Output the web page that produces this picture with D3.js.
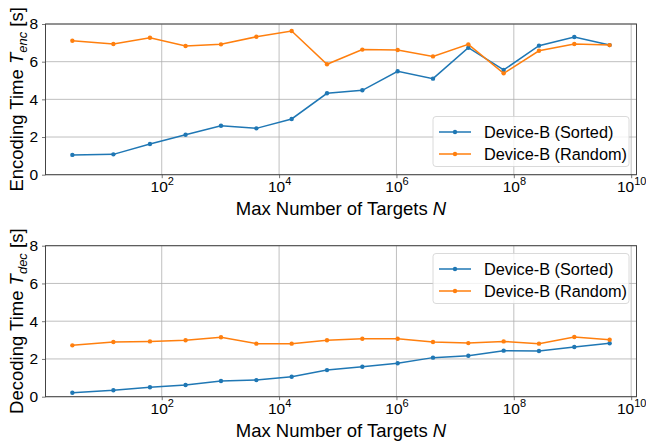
<!DOCTYPE html>
<html>
<head>
<meta charset="utf-8">
<script src="https://cdn.jsdelivr.net/npm/d3@7"></script>
<style>
  body { margin: 0; background: #fff; }
  svg { font-family: "Liberation Sans", Arial, sans-serif; }
</style>
</head>
<body>
<svg id="chart" width="646" height="443"></svg>
<script>
// max number of targets: 4^k - 1, k = 1..16
const targets = [3, 15, 63, 255, 1023, 4095, 16383, 65535, 262143, 1048575,
  4194303, 16777215, 67108863, 268435455, 1073741823, 4294967295];

const encSorted = [1.05, 1.08, 1.63, 2.12, 2.60, 2.46, 2.96, 4.32, 4.48, 5.49,
  5.10, 6.74, 5.56, 6.85, 7.31, 6.88];
const encRandom = [7.11, 6.94, 7.27, 6.83, 6.92, 7.32, 7.63, 5.86, 6.64, 6.62,
  6.28, 6.92, 5.38, 6.58, 6.94, 6.88];

const decSorted = [0.21, 0.34, 0.50, 0.62, 0.83, 0.88, 1.06, 1.41, 1.59, 1.77,
  2.07, 2.17, 2.44, 2.42, 2.63, 2.83];
const decRandom = [2.72, 2.90, 2.93, 2.99, 3.15, 2.81, 2.81, 2.99, 3.07, 3.07,
  2.90, 2.84, 2.93, 2.81, 3.16, 3.02];

const xTicks = [1e2, 1e4, 1e6, 1e8, 1e10];
const yTicks = [0, 2, 4, 6, 8];
const seriesNames = ['Device-B (Sorted)', 'Device-B (Random)'];
const colors = ['#1f77b4', '#ff7f0e'];

const svg = d3.select('#chart');
const left = 45.5, right = 636.5;

// log axis with 5% margins like matplotlib
const lo = Math.log10(d3.min(targets)), hi = Math.log10(d3.max(targets));
const pad = (hi - lo) * 0.05;
const x = d3.scaleLog()
  .domain([Math.pow(10, lo - pad), Math.pow(10, hi + pad)])
  .range([left, right]);

function drawPanel(top, bottom, sorted, random, labelSub, labelMain, legendY) {
  const y = d3.scaleLinear().domain([0, 8]).range([bottom, top]);
  const g = svg.append('g');

  // grid
  g.append('g').selectAll('line').data(xTicks).enter().append('line')
    .attr('x1', d => x(d)).attr('x2', d => x(d))
    .attr('y1', top).attr('y2', bottom)
    .attr('stroke', '#b0b0b0').attr('stroke-width', 0.8);
  g.append('g').selectAll('line').data(yTicks).enter().append('line')
    .attr('x1', left).attr('x2', right)
    .attr('y1', d => y(d)).attr('y2', d => y(d))
    .attr('stroke', '#b0b0b0').attr('stroke-width', 0.8);

  // axes
  const xAxis = g.append('g')
    .attr('transform', `translate(0,${bottom})`)
    .call(d3.axisBottom(x).tickValues(xTicks).tickSize(3.5).tickSizeOuter(0).tickPadding(3)
      .tickFormat(() => ''));
  xAxis.selectAll('.tick text').each(function (d) {
    const t = d3.select(this);
    const e = Math.round(Math.log10(d));
    t.text(null).attr('font-size', 15.5).attr('fill', '#000');
    t.append('tspan').text('10');
    t.append('tspan').attr('dy', -7).attr('font-size', 11).text(String(e));
  });
  const yAxis = g.append('g')
    .attr('transform', `translate(${left},0)`)
    .call(d3.axisLeft(y).tickValues(yTicks).tickSize(3.5).tickSizeOuter(0).tickPadding(4));
  yAxis.selectAll('.tick text').attr('font-size', 15.5).attr('fill', '#000');
  [xAxis, yAxis].forEach(a => {
    a.select('.domain').remove();
    a.selectAll('.tick line').attr('stroke', '#555').attr('stroke-width', 0.8);
  });

  // spines
  g.append('rect')
    .attr('x', left).attr('y', top)
    .attr('width', right - left).attr('height', bottom - top)
    .attr('fill', 'none').attr('stroke', '#444').attr('stroke-width', 1);

  // series
  [sorted, random].forEach((vals, i) => {
    const pts = targets.map((t, j) => [t, vals[j]]);
    g.append('path').datum(pts)
      .attr('fill', 'none').attr('stroke', colors[i]).attr('stroke-width', 1.5)
      .attr('d', d3.line().x(d => x(d[0])).y(d => y(d[1])));
    g.append('g').selectAll('circle').data(pts).enter().append('circle')
      .attr('cx', d => x(d[0])).attr('cy', d => y(d[1])).attr('r', 2.2)
      .attr('fill', colors[i]);
  });

  // legend
  const lg = g.append('g').attr('transform', `translate(433,${legendY})`);
  lg.append('rect').attr('width', 196).attr('height', 50).attr('rx', 3)
    .attr('fill', 'rgba(255,255,255,0.8)').attr('stroke', '#d0d0d0').attr('stroke-width', 0.8);
  seriesNames.forEach((name, i) => {
    const cy = 15.5 + i * 22;
    lg.append('line').attr('x1', 6).attr('x2', 38).attr('y1', cy).attr('y2', cy)
      .attr('stroke', colors[i]).attr('stroke-width', 1.5);
    lg.append('circle').attr('cx', 22).attr('cy', cy).attr('r', 2.2).attr('fill', colors[i]);
    lg.append('text').attr('x', 51).attr('y', cy + 6).attr('font-size', 16.3)
      .attr('fill', '#000').text(name);
  });

  // x label
  const xl = svg.append('text')
    .attr('x', (left + right) / 2).attr('y', bottom + 40)
    .attr('text-anchor', 'middle').attr('font-size', 18.5).attr('fill', '#000');
  xl.append('tspan').text('Max Number of Targets ');
  xl.append('tspan').attr('font-style', 'italic').text('N');

  // y label
  const yl = svg.append('text')
    .attr('transform', `translate(23,${(top + bottom) / 2}) rotate(-90)`)
    .attr('text-anchor', 'middle').attr('font-size', 18.5).attr('fill', '#000');
  yl.append('tspan').text(labelMain + ' ');
  yl.append('tspan').attr('font-style', 'italic').text('T');
  yl.append('tspan').attr('font-style', 'italic').attr('font-size', 13).attr('dy', 4).text(labelSub);
  yl.append('tspan').attr('dy', -4).text(' [s]');
}

drawPanel(24, 174.7, encSorted, encRandom, 'enc', 'Encoding Time', 116.5);
drawPanel(245.7, 396.7, decSorted, decRandom, 'dec', 'Decoding Time', 253.5);
</script>
</body>
</html>
